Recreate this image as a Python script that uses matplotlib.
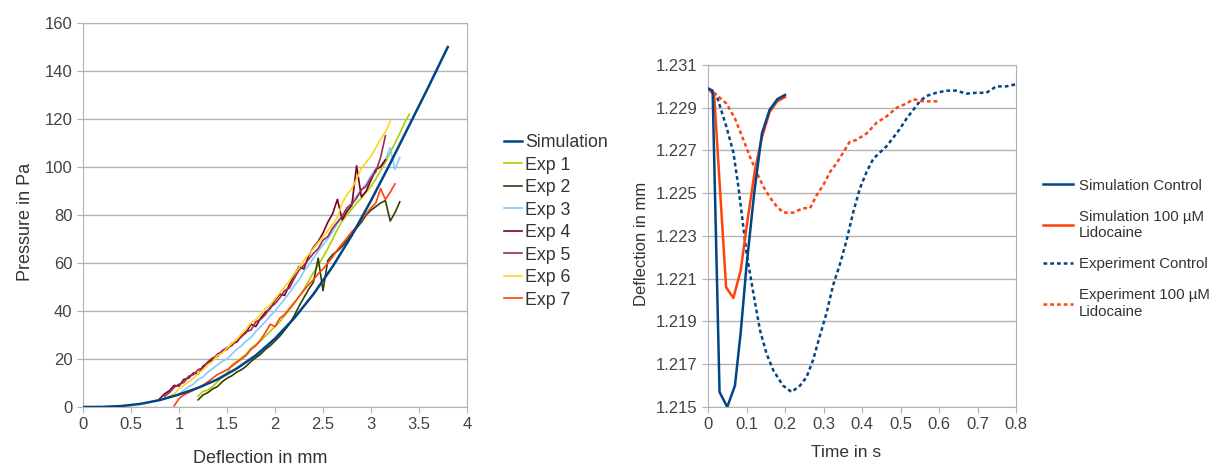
import matplotlib
matplotlib.use("Agg")
import matplotlib.pyplot as plt
from matplotlib.ticker import FuncFormatter
import numpy as np

plt.rcParams['font.family'] = ['Liberation Sans', 'DejaVu Sans']

# ---- left chart: pressure vs deflection ----
sim_defl = [0.0, 0.2, 0.4, 0.6, 0.8, 1.0, 1.2, 1.4, 1.6, 1.8, 2.0, 2.2, 2.4,
            2.6, 2.8, 3.0, 3.2, 3.4, 3.6, 3.8]
sim_press = [0, 0.05, 0.4, 1.3, 2.9, 5.2, 8.0, 11.5, 16.0, 21.5, 28.5, 37.0,
             47.0, 58.5, 71.5, 86.0, 101.5, 117.5, 133.5, 150.0]

exp_step = 0.05
exp_start = {'Exp 1': 1.20, 'Exp 2': 1.20, 'Exp 3': 1.00, 'Exp 4': 0.80,
             'Exp 5': 0.85, 'Exp 6': 0.90, 'Exp 7': 0.95}

exp1 = [4.5, 6.5, 7.0, 8.5, 10.5, 12.5, 14.0, 17.5, 19.0, 20.5, 22.0, 24.5, 26.0,
        27.5, 29.5, 31.5, 33.5, 35.5, 38.0, 40.5, 43.0, 46.0, 49.0, 52.5, 56.0,
        59.0, 62.5, 66.0, 70.0, 74.0, 77.5, 80.0, 82.5, 85.0, 87.0, 89.5, 92.0,
        95.0, 98.5, 102.0, 106.0, 110.0, 114.0, 118.5, 122.0]
exp2 = [3.0, 5.0, 6.0, 7.5, 8.5, 10.5, 12.0, 13.0, 14.5, 15.5, 17.0, 19.0, 20.5,
        22.0, 24.0, 25.5, 27.5, 29.5, 32.0, 34.5, 38.0, 42.0, 45.5, 49.0, 52.0,
        62.0, 48.5, 61.0, 63.5, 65.0, 67.0, 69.5, 72.0, 74.5, 77.0, 80.0, 82.0,
        83.5, 85.0, 86.0, 77.5, 81.0, 85.5]
exp3 = [5.5, 7.0, 8.5, 9.5, 11.5, 12.5, 14.5, 16.0, 17.5, 19.0, 20.0, 22.0, 24.0,
        25.5, 27.5, 29.0, 31.5, 33.5, 35.5, 38.0, 40.0, 42.5, 45.0, 47.5, 50.5,
        53.0, 56.5, 59.0, 62.0, 65.0, 67.5, 70.0, 73.0, 76.5, 79.0, 82.5, 85.5,
        88.0, 90.5, 93.0, 96.5, 99.0, 100.5, 103.0, 108.0, 99.0, 104.0]
exp4 = [3.5, 5.5, 6.8, 9.0, 8.7, 11.5, 12.0, 14.2, 13.8, 17.0, 18.5, 19.6, 22.0,
        23.1, 24.0, 26.5, 27.0, 29.5, 31.0, 34.5, 33.5, 37.0, 39.5, 41.0, 44.5,
        47.0, 46.5, 51.0, 55.0, 58.5, 57.5, 63.0, 66.5, 69.0, 72.5, 77.0, 80.5,
        86.5, 78.0, 81.5, 84.0, 100.5, 87.5, 90.0, 94.5, 99.0, 100.0, 103.0]
exp5 = [4.5, 6.0, 8.2, 9.5, 10.2, 12.8, 13.5, 15.6, 16.2, 18.8, 20.5, 21.0, 23.5,
        24.8, 25.5, 28.0, 29.2, 31.5, 32.0, 35.5, 36.5, 38.5, 41.5, 43.0, 45.5,
        48.5, 49.5, 53.5, 57.0, 59.0, 61.5, 64.0, 66.0, 69.5, 71.0, 74.5, 77.0,
        79.5, 83.0, 84.5, 87.0, 90.5, 92.0, 95.5, 98.0, 104.0, 113.0]
exp6 = [4.5, 5.5, 7.5, 9.0, 10.5, 12.0, 14.0, 15.5, 17.5, 19.0, 21.5, 22.5, 24.5,
        26.5, 28.0, 30.5, 32.5, 35.0, 36.5, 38.5, 41.0, 42.5, 45.0, 47.5, 50.0,
        52.5, 55.5, 58.0, 61.0, 63.5, 66.0, 68.5, 71.0, 73.5, 76.0, 79.0, 85.0,
        88.5, 91.0, 95.0, 99.5, 102.0, 104.5, 108.0, 111.5, 114.5, 119.0]
exp7 = [0.5, 3.5, 5.0, 6.0, 7.0, 8.0, 9.0, 10.5, 12.0, 13.5, 14.5, 15.5, 17.0,
        18.5, 20.0, 21.5, 24.0, 25.5, 28.0, 31.0, 34.5, 33.5, 37.0, 38.5, 41.0,
        43.5, 46.0, 48.5, 51.0, 53.0, 55.5, 57.5, 60.0, 62.5, 65.5, 68.0, 70.5,
        73.0, 75.0, 78.0, 80.5, 83.0, 85.0, 91.0, 86.5, 89.5, 93.0]

exp_series = {'Exp 1': exp1, 'Exp 2': exp2, 'Exp 3': exp3, 'Exp 4': exp4,
              'Exp 5': exp5, 'Exp 6': exp6, 'Exp 7': exp7}
exp_colors = {'Exp 1': '#aecf00', 'Exp 2': '#314004', 'Exp 3': '#83caff',
              'Exp 4': '#7e0021', 'Exp 5': '#9b2d52', 'Exp 6': '#ffd320',
              'Exp 7': '#ff420e'}

# ---- right chart: deflection vs time ----
sim_ctrl_t = [0, 0.012, 0.03, 0.05, 0.07, 0.085, 0.1, 0.12, 0.14, 0.16, 0.18, 0.2]
sim_ctrl_d = [1.2299, 1.2298, 1.2157, 1.2150, 1.2160, 1.2185, 1.2216, 1.2250,
              1.2278, 1.2289, 1.2294, 1.2296]
sim_lido_t = [0, 0.016, 0.047, 0.066, 0.085, 0.1, 0.122, 0.14, 0.16, 0.18, 0.2]
sim_lido_d = [1.2299, 1.2296, 1.2206, 1.2201, 1.2214, 1.2234, 1.2261, 1.2276,
              1.2288, 1.2293, 1.2295]
exp_ctrl_t = [0, 0.022, 0.048, 0.066, 0.079, 0.1, 0.118, 0.135, 0.152, 0.17,
              0.195, 0.217, 0.239, 0.256, 0.273, 0.29, 0.308, 0.325, 0.343,
              0.36, 0.377, 0.394, 0.412, 0.429, 0.446, 0.464, 0.481, 0.498,
              0.516, 0.533, 0.55, 0.567, 0.593, 0.619, 0.645, 0.671, 0.697,
              0.723, 0.749, 0.775, 0.8]
exp_ctrl_d = [1.2299, 1.2296, 1.2281, 1.2269, 1.2253, 1.2222, 1.2203, 1.2186,
              1.2175, 1.2167, 1.2160, 1.2157, 1.2160, 1.2164, 1.2172, 1.2183,
              1.2194, 1.2207, 1.2217, 1.2228, 1.2241, 1.2252, 1.2260, 1.2266,
              1.2269, 1.2272, 1.2276, 1.2280, 1.2285, 1.2289, 1.2293, 1.22955,
              1.2297, 1.2298, 1.2298, 1.22966, 1.2297, 1.2297, 1.2300, 1.2300,
              1.2301]
exp_lido_t = [0, 0.022, 0.048, 0.07, 0.092, 0.109, 0.126, 0.144, 0.161, 0.178,
              0.195, 0.221, 0.247, 0.265, 0.282, 0.3, 0.317, 0.334, 0.351,
              0.368, 0.386, 0.412, 0.438, 0.464, 0.49, 0.516, 0.533, 0.559,
              0.585, 0.6]
exp_lido_d = [1.2299, 1.2296, 1.2292, 1.2285, 1.2275, 1.2267, 1.2260, 1.2253,
              1.2248, 1.2244, 1.2241, 1.22409, 1.2243, 1.2243, 1.2249, 1.2254,
              1.2260, 1.2264, 1.2269, 1.2274, 1.2275, 1.2278, 1.2283, 1.2286,
              1.2290, 1.2292, 1.2294, 1.2293, 1.2293, 1.2293]

BLUE = '#004586'
ORANGE = '#ff420e'
GRID = '#b3b3b3'
TXT = '#333333'


def style_axes(ax):
    for sp in ax.spines.values():
        sp.set_color(GRID)
    ax.grid(axis='y', color=GRID, lw=1)
    ax.set_axisbelow(True)
    ax.tick_params(direction='out', length=4, color=GRID, labelcolor='#444444',
                   labelsize=12)


fig = plt.figure(figsize=(12.16, 4.65), dpi=100)

ax1 = fig.add_axes([83/1216, 1-407/465, 384/1216, 384/465])
handles = []
for name, vals in exp_series.items():
    x = exp_start[name] + exp_step*np.arange(len(vals))
    h, = ax1.plot(x, vals, color=exp_colors[name], lw=1.2, label=name)
    handles.append(h)
hs, = ax1.plot(sim_defl, sim_press, color=BLUE, lw=1.8, label='Simulation', zorder=5)
handles.insert(0, hs)
ax1.set_xlim(0, 4)
ax1.set_ylim(0, 160)
ax1.set_xticks(np.arange(0, 4.01, 0.5))
ax1.set_yticks(np.arange(0, 161, 20))
ax1.xaxis.set_major_formatter(FuncFormatter(lambda v, p: '{:g}'.format(v)))
style_axes(ax1)
ax1.set_xlabel('Deflection in mm', fontsize=13, color=TXT)
ax1.set_ylabel('Pressure in Pa', fontsize=13, color=TXT)
ax1.xaxis.set_label_coords(0.461, -0.111)
ax1.yaxis.set_label_coords(-0.128, 0.482)
fig.legend(handles=handles, loc='upper left', bbox_to_anchor=(488/1216, 1-118/465),
           frameon=False, fontsize=12.8, handlelength=1.0, handletextpad=0.2,
           labelspacing=0.31, labelcolor=TXT)

ax2 = fig.add_axes([708/1216, 1-407/465, 308/1216, 342/465])
l1, = ax2.plot(sim_ctrl_t, sim_ctrl_d, color=BLUE, lw=1.8, label='Simulation Control', zorder=4)
l2, = ax2.plot(sim_lido_t, sim_lido_d, color=ORANGE, lw=1.8,
               label='Simulation 100 µM\nLidocaine', zorder=3)
l3, = ax2.plot(exp_ctrl_t, exp_ctrl_d, color=BLUE, lw=1.8, ls=(0, (1.5, 1.2)),
               label='Experiment Control')
l4, = ax2.plot(exp_lido_t, exp_lido_d, color=ORANGE, lw=1.8, ls=(0, (1.5, 1.2)),
               label='Experiment 100 µM\nLidocaine')
ax2.set_xlim(0, 0.8)
ax2.set_ylim(1.215, 1.231)
ax2.set_xticks(np.arange(0, 0.81, 0.1))
ax2.set_yticks(np.arange(1.215, 1.2311, 0.002))
ax2.xaxis.set_major_formatter(FuncFormatter(lambda v, p: '{:g}'.format(round(v, 2))))
ax2.yaxis.set_major_formatter(FuncFormatter(lambda v, p: '{:.3f}'.format(v)))
style_axes(ax2)
ax2.set_xlabel('Time in s', fontsize=12.5, color=TXT)
ax2.set_ylabel('Deflection in mm', fontsize=12, color=TXT)
ax2.xaxis.set_label_coords(0.448, -0.11)
ax2.yaxis.set_label_coords(-0.19, 0.478)
fig.legend(handles=[l1, l2, l3, l4], loc='upper left',
           bbox_to_anchor=(1029/1216, 1-165/465), frameon=False, fontsize=10.8,
           handlelength=2.05, handletextpad=0.37, labelspacing=1.15, labelcolor=TXT)

fig.savefig('out.png', dpi=100)
